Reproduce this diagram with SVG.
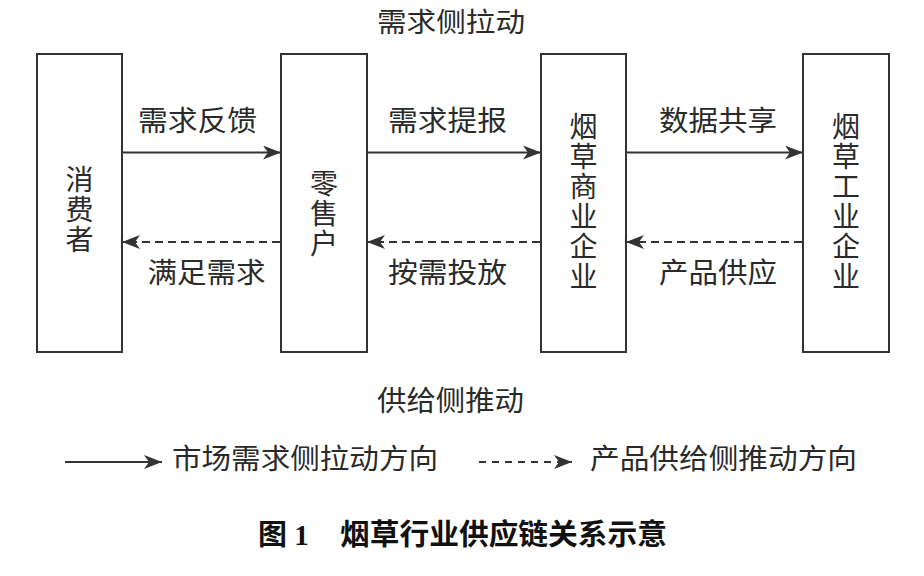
<svg xmlns="http://www.w3.org/2000/svg" width="924" height="576" viewBox="0 0 924 576">
<style>
.box{fill:#fff;stroke:#333;stroke-width:2}
.t{font-family:"Noto Sans CJK SC","Liberation Sans",sans-serif;font-size:28px;fill:#2a2a2a;text-anchor:middle}
.v{font-family:"Noto Sans CJK SC","Liberation Sans",sans-serif;font-size:28px;fill:#2a2a2a;text-anchor:middle;writing-mode:vertical-rl;letter-spacing:2px}
.solid{stroke:#333;stroke-width:2;fill:none}
.dash{stroke:#333;stroke-width:2;fill:none;stroke-dasharray:8 5}
.ldash{stroke:#333;stroke-width:2;fill:none;stroke-dasharray:7 6}
.cap{font-family:"Liberation Serif","Noto Sans CJK SC",serif;font-size:29px;font-weight:bold;fill:#111}
.capc{font-family:"Noto Sans CJK SC","Liberation Sans",sans-serif;font-size:29px;font-weight:bold;fill:#111}
</style>
<defs>
<marker id="ah" viewBox="0 0 18 14" refX="18" refY="7" markerWidth="18" markerHeight="14" markerUnits="userSpaceOnUse" orient="auto">
<path d="M0,0 L18,7 L0,14 L5,7 Z" fill="#333" stroke="none"/>
</marker>
</defs>
<rect width="924" height="576" fill="#fff"/>

<g id="node-consumer">
<rect class="box" x="37" y="54" width="85" height="298"/>
<text class="v" x="79.5" y="210.5">消费者</text>
</g>
<g id="node-retailer">
<rect class="box" x="281" y="54" width="86" height="298"/>
<text class="v" x="324" y="214">零售户</text>
</g>
<g id="node-commercial">
<rect class="box" x="541" y="54" width="85" height="298"/>
<text class="v" x="583.5" y="202.5">烟草商业企业</text>
</g>
<g id="node-industrial">
<rect class="box" x="803" y="54" width="86" height="298"/>
<text class="v" x="846" y="202.5">烟草工业企业</text>
</g>

<g id="connectors">
<line class="solid" x1="123" y1="152.5" x2="281" y2="152.5" marker-end="url(#ah)"/>
<line class="solid" x1="368" y1="152.5" x2="541" y2="152.5" marker-end="url(#ah)"/>
<line class="solid" x1="627" y1="152.5" x2="803" y2="152.5" marker-end="url(#ah)"/>
<line class="dash" x1="280" y1="242" x2="122" y2="242" marker-end="url(#ah)"/>
<line class="dash" x1="540" y1="242" x2="367" y2="242" marker-end="url(#ah)"/>
<line class="dash" x1="802" y1="242" x2="626" y2="242" marker-end="url(#ah)"/>
</g>

<g id="edge-labels">
<text class="t" x="197.5" y="131" textLength="119" lengthAdjust="spacingAndGlyphs">需求反馈</text>
<text class="t" x="447.5" y="131" textLength="119" lengthAdjust="spacingAndGlyphs">需求提报</text>
<text class="t" x="718" y="131" textLength="118" lengthAdjust="spacingAndGlyphs">数据共享</text>
<text class="t" x="206.5" y="283" textLength="118" lengthAdjust="spacingAndGlyphs">满足需求</text>
<text class="t" x="447.5" y="283" textLength="119" lengthAdjust="spacingAndGlyphs">按需投放</text>
<text class="t" x="718" y="283" textLength="118" lengthAdjust="spacingAndGlyphs">产品供应</text>
</g>

<g id="side-titles">
<text class="t" x="451" y="31.5" style="font-size:27px" textLength="148" lengthAdjust="spacingAndGlyphs">需求侧拉动</text>
<text class="t" x="450.5" y="411" textLength="147" lengthAdjust="spacingAndGlyphs">供给侧推动</text>
</g>

<g id="legend">
<line class="solid" x1="65" y1="462" x2="162" y2="462" marker-end="url(#ah)"/>
<text class="t" x="305" y="469" textLength="266" lengthAdjust="spacingAndGlyphs">市场需求侧拉动方向</text>
<line class="ldash" x1="479" y1="462" x2="572" y2="462" marker-end="url(#ah)"/>
<text class="t" x="723.5" y="469" textLength="267" lengthAdjust="spacingAndGlyphs">产品供给侧推动方向</text>
</g>

<g id="caption">
<text class="cap" x="258" y="545">图 1</text>
<text class="capc" x="340" y="545" textLength="327" lengthAdjust="spacingAndGlyphs">烟草行业供应链关系示意</text>
</g>
</svg>
